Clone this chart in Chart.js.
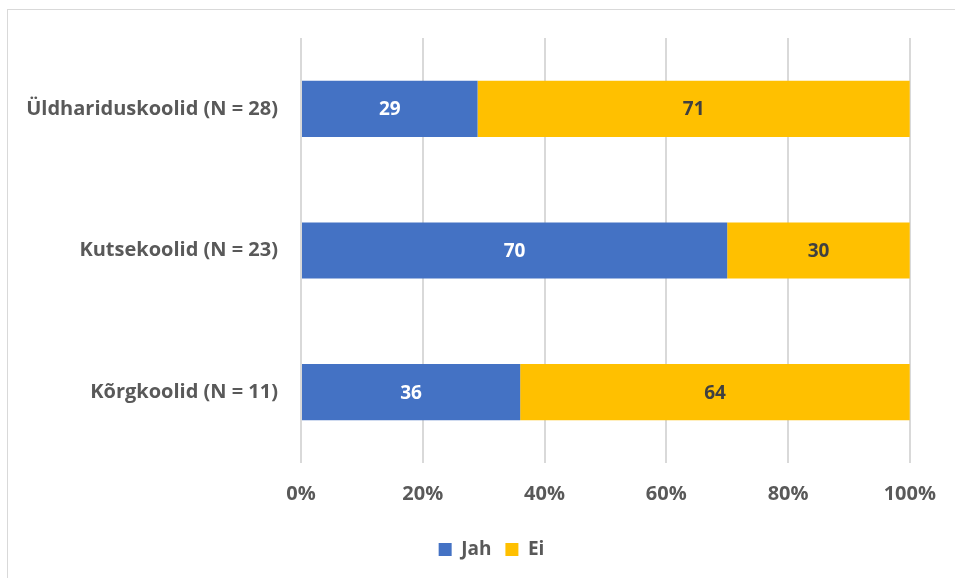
<!DOCTYPE html>
<html>
<head>
<meta charset="utf-8">
<script src="https://cdn.jsdelivr.net/npm/chart.js@4"></script>
<style>
    html, body { margin: 0; padding: 0; background: #fff; }
    #frame { position: absolute; left: 7px; top: 9px; width: 960px; height: 590px; border: 1px solid #d9d9d9; }
    #wrap { position: absolute; left: 0; top: 0; width: 955px; height: 578px; }
</style>
</head>
<body>
<div id="frame"></div>
<div id="wrap"><canvas id="chart"></canvas></div>
<script>
const categories = ['Üldhariduskoolid (N = 28)', 'Kutsekoolid (N = 23)', 'Kõrgkoolid (N = 11)'];
const jahValues = [29, 70, 36];
const eiValues = [71, 30, 64];
const xTicks = [0, 20, 40, 60, 80, 100];

const FONT = '"Open Sans", Lato, sans-serif';
const TEXT = '#595959';

// draws the value in the middle of each bar segment
const barLabels = {
    id: 'barLabels',
    afterDatasetsDraw(chart) {
        const ctx = chart.ctx;
        ctx.save();
        ctx.font = 'bold 19px ' + FONT;
        ctx.textAlign = 'center';
        ctx.textBaseline = 'middle';
        chart.data.datasets.forEach(function (ds, i) {
            const meta = chart.getDatasetMeta(i);
            ctx.fillStyle = ds.labelColor;
            meta.data.forEach(function (bar, j) {
                const cx = (bar.x + bar.base) / 2;
                ctx.fillText(String(ds.data[j]), cx, bar.y + 1);
            });
        });
        ctx.restore();
    }
};

// legend in the original sits a bit right of centre
const legendShift = {
    id: 'legendShift',
    afterLayout(chart) {
        chart.legend.left += 35;
        chart.legend.right += 35;
    }
};

const ctx = document.getElementById('chart').getContext('2d');
new Chart(ctx, {
    type: 'bar',
    data: {
        labels: categories,
        datasets: [
            { label: 'Jah', data: jahValues, backgroundColor: '#4472C4', labelColor: '#ffffff' },
            { label: 'Ei', data: eiValues, backgroundColor: '#FFC000', labelColor: '#404040' }
        ]
    },
    options: {
        indexAxis: 'y',
        responsive: true,
        maintainAspectRatio: false,
        animation: false,
        layout: { padding: { top: 38, right: 42, bottom: 9, left: 0 } },
        datasets: {
            bar: { barPercentage: 0.66, categoryPercentage: 0.6 }
        },
        plugins: {
            legend: {
                position: 'bottom',
                labels: {
                    boxWidth: 13,
                    boxHeight: 13,
                    padding: 14,
                    color: TEXT,
                    font: { family: FONT, size: 19, weight: 'bold' }
                }
            },
            tooltip: { enabled: false }
        },
        scales: {
            x: {
                stacked: true,
                min: 0,
                max: 100,
                afterBuildTicks: function (scale) {
                    scale.ticks = xTicks.map(function (v) { return { value: v }; });
                },
                afterFit: function (scale) { scale.height = 63; },
                grid: { color: '#d9d9d9', lineWidth: 2, drawTicks: false },
                border: { display: false },
                ticks: {
                    padding: 19,
                    color: TEXT,
                    font: { family: FONT, size: 20, weight: 'bold' },
                    callback: function (v) { return v + '%'; }
                }
            },
            y: {
                stacked: true,
                afterFit: function (scale) { scale.width = 301; },
                grid: { display: false, drawTicks: false },
                border: { display: false },
                ticks: {
                    padding: 23,
                    color: TEXT,
                    font: { family: FONT, size: 20, weight: 'bold' }
                }
            }
        }
    },
    plugins: [barLabels, legendShift]
});
</script>
</body>
</html>
